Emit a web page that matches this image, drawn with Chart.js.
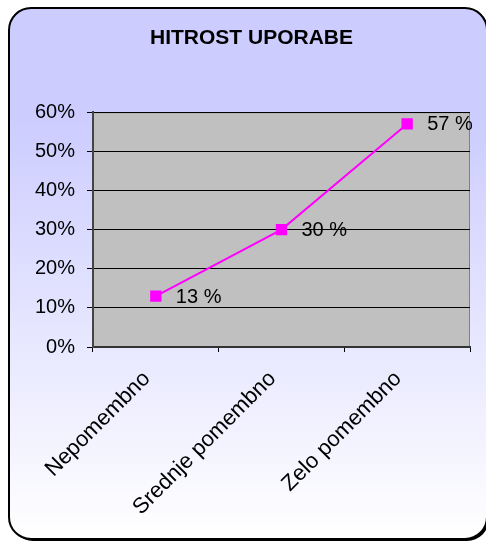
<!DOCTYPE html>
<html>
<head>
<meta charset="utf-8">
<script src="https://cdn.jsdelivr.net/npm/chart.js@4"></script>
<style>
html,body{margin:0;padding:0;background:#ffffff;}
#wrap{position:relative;width:486px;height:544px;}
</style>
</head>
<body>
<div id="wrap"><canvas id="c" width="486" height="544"></canvas></div>
<script>
const title = "HITROST UPORABE";
const categories = ["Nepomembno", "Srednje pomembno", "Zelo pomembno"];
const values = [13, 30, 57];
const yTicks = [0, 10, 20, 30, 40, 50, 60];

const FONT = "'Liberation Sans', Arial, sans-serif";
Chart.defaults.font.family = FONT;
Chart.defaults.color = "#000000";

const frame = {
  id: "frame",
  beforeDraw(chart) {
    const ctx = chart.ctx;
    const x = 9, y = 8, w = 478, h = 531, r = 22;
    ctx.save();
    ctx.fillStyle = "#000000";
    ctx.beginPath();
    ctx.roundRect(x + 2, y + 2, w, h, r);
    ctx.fill();
    const g = ctx.createLinearGradient(0, y, 0, y + h);
    g.addColorStop(0, "#ccccff");
    g.addColorStop(0.2, "#ccccff");
    g.addColorStop(1, "#ffffff");
    ctx.beginPath();
    ctx.roundRect(x, y, w, h, r);
    ctx.fillStyle = g;
    ctx.fill();
    ctx.lineWidth = 2;
    ctx.strokeStyle = "#000000";
    ctx.stroke();
    const a = chart.chartArea;
    ctx.fillStyle = "#c0c0c0";
    ctx.fillRect(a.left, a.top, a.right - a.left, a.bottom - a.top);
    ctx.lineWidth = 1;
    ctx.strokeStyle = "#808080";
    ctx.beginPath();
    ctx.moveTo(a.left, a.top + 0.5);
    ctx.lineTo(a.right - 0.5, a.top + 0.5);
    ctx.lineTo(a.right - 0.5, a.bottom);
    ctx.stroke();
    ctx.restore();
  }
};

const labelsPlugin = {
  id: "pointLabels",
  afterDatasetsDraw(chart) {
    const ctx = chart.ctx;
    const meta = chart.getDatasetMeta(0);
    ctx.save();
    ctx.font = "20px " + FONT;
    ctx.fillStyle = "#000000";
    ctx.textAlign = "left";
    ctx.textBaseline = "middle";
    meta.data.forEach((pt, i) => {
      ctx.fillText(values[i] + " %", pt.x + 20, pt.y + 1);
    });
    ctx.restore();
  }
};

new Chart(document.getElementById("c"), {
  type: "line",
  data: {
    labels: categories,
    datasets: [{
      data: values,
      borderColor: "#ff00ff",
      backgroundColor: "#ff00ff",
      borderWidth: 2,
      pointStyle: "rect",
      pointRadius: 8,
      pointHoverRadius: 8,
      pointBorderWidth: 0,
      tension: 0,
      fill: false
    }]
  },
  options: {
    responsive: false,
    animation: false,
    devicePixelRatio: 1,
    layout: { padding: { left: 33, right: 16, top: 0, bottom: 8 } },
    plugins: {
      legend: { display: false },
      tooltip: { enabled: false },
      title: {
        display: true,
        text: title,
        font: { size: 21, weight: "bold", family: FONT },
        color: "#000000",
        padding: { top: 26, bottom: 61 }
      }
    },
    scales: {
      x: {
        offset: true,
        grid: {
          offset: true,
          drawOnChartArea: false,
          drawTicks: true,
          tickLength: 5,
          tickColor: "#000000",
          lineWidth: 1
        },
        border: { color: "#333333", width: 2 },
        ticks: {
          maxRotation: 45,
          minRotation: 45,
          autoSkip: false,
          padding: 14,
          labelOffset: -9,
          font: { size: 22 },
          color: "#000000"
        },
        afterFit(s) { s.height = 189; }
      },
      y: {
        min: 0,
        max: 60,
        afterBuildTicks(s) { s.ticks = yTicks.map(v => ({ value: v })); },
        grid: {
          color: "#000000",
          lineWidth: 1,
          drawTicks: true,
          tickLength: 6,
          tickColor: "#000000"
        },
        border: { color: "#444444", width: 2 },
        ticks: {
          padding: 12,
          font: { size: 20 },
          color: "#000000",
          callback: v => v + "%"
        },
        afterFit(s) { s.width = 60; }
      }
    }
  },
  plugins: [frame, labelsPlugin]
});
</script>
</body>
</html>
